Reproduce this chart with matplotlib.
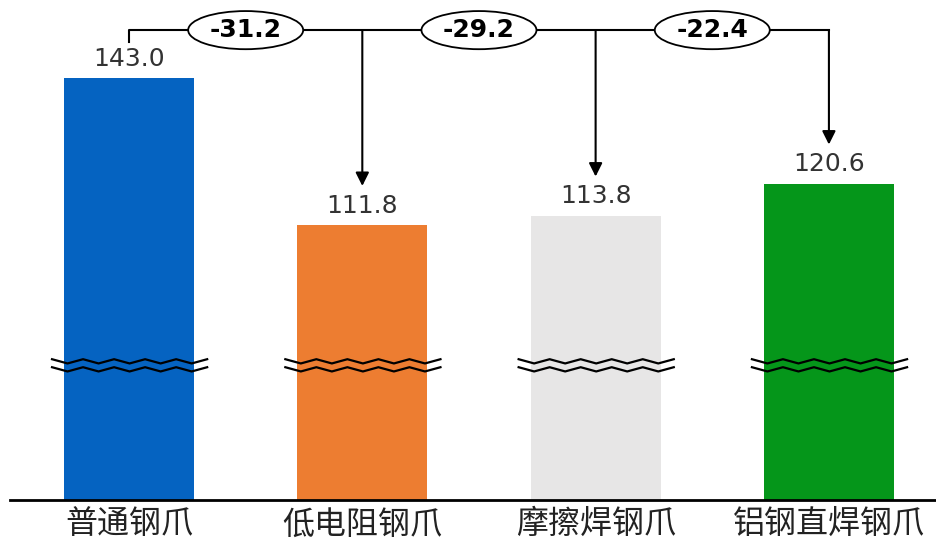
import numpy as np
import matplotlib.pyplot as plt
from matplotlib.patches import Ellipse

plt.rcParams['font.family'] = ['DejaVu Sans', 'Noto Sans CJK SC']

# 数据
categories = ['普通钢爪', '低电阻钢爪', '摩擦焊钢爪', '铝钢直焊钢爪']
values = [143.0, 111.8, 113.8, 120.6]
colors = ['#0563C1', '#ED7D31', '#E7E6E6', '#05961A']
diffs = [round(v - values[0], 1) for v in values[1:]]

y_bottom, y_top = 53.4, 159.6
bracket_y = 153.2

fig = plt.figure(figsize=(9.36, 5.39), dpi=100)
ax = fig.add_axes([0, 0.0724, 1, 0.9276])

x = np.arange(len(categories))
ax.bar(x, np.array(values) - y_bottom, bottom=y_bottom, width=0.557, color=colors, zorder=1)

# 数值标签
for xi, v in zip(x, values):
    ax.text(xi, v + 1.6, f'{v:.1f}', ha='center', va='bottom', fontsize=18, color='#333333')

# 断轴折线
zx = np.linspace(-0.33, 0.335, 11)
zz = np.where(np.arange(11) % 2 == 0, 0.0, 0.9)
for xi in x:
    for base in (83.3, 81.6):
        ax.plot(xi + zx, base - zz, color='black', lw=1.6, zorder=3)

# 差值连线和箭头
ax.plot([0, 0, x[-1]], [150.6, bracket_y, bracket_y], color='black', lw=1.5, zorder=2)
for xi, v in zip(x[1:], values[1:]):
    ax.annotate('', xy=(xi, v + 8.3), xytext=(xi, bracket_y),
                arrowprops=dict(arrowstyle='-|>', color='black', lw=1.5,
                                mutation_scale=20, shrinkA=0, shrinkB=0), zorder=2)

for i, d in enumerate(diffs):
    cx = i + 0.5
    ax.add_patch(Ellipse((cx, bracket_y), 0.493, 8.1, facecolor='white',
                         edgecolor='black', lw=1.3, zorder=4))
    ax.text(cx, bracket_y, f'{d:.1f}', ha='center', va='center', fontsize=18,
            fontweight='bold', color='black', zorder=5)

ax.set_xlim(-0.553, 3.459)
ax.set_ylim(y_bottom, y_top)
ax.set_xticks(x)
ax.set_xticklabels(categories, fontsize=23, family=['Noto Sans CJK SC'], color='#222222')
ax.tick_params(axis='x', length=0, pad=6)
ax.set_yticks([])
for s in ('left', 'right', 'top'):
    ax.spines[s].set_visible(False)
ax.spines['bottom'].set_linewidth(2)
ax.spines['bottom'].set_bounds(-0.553 + 10 / 233.3, 3.459)

fig.savefig('out.png', dpi=100)
